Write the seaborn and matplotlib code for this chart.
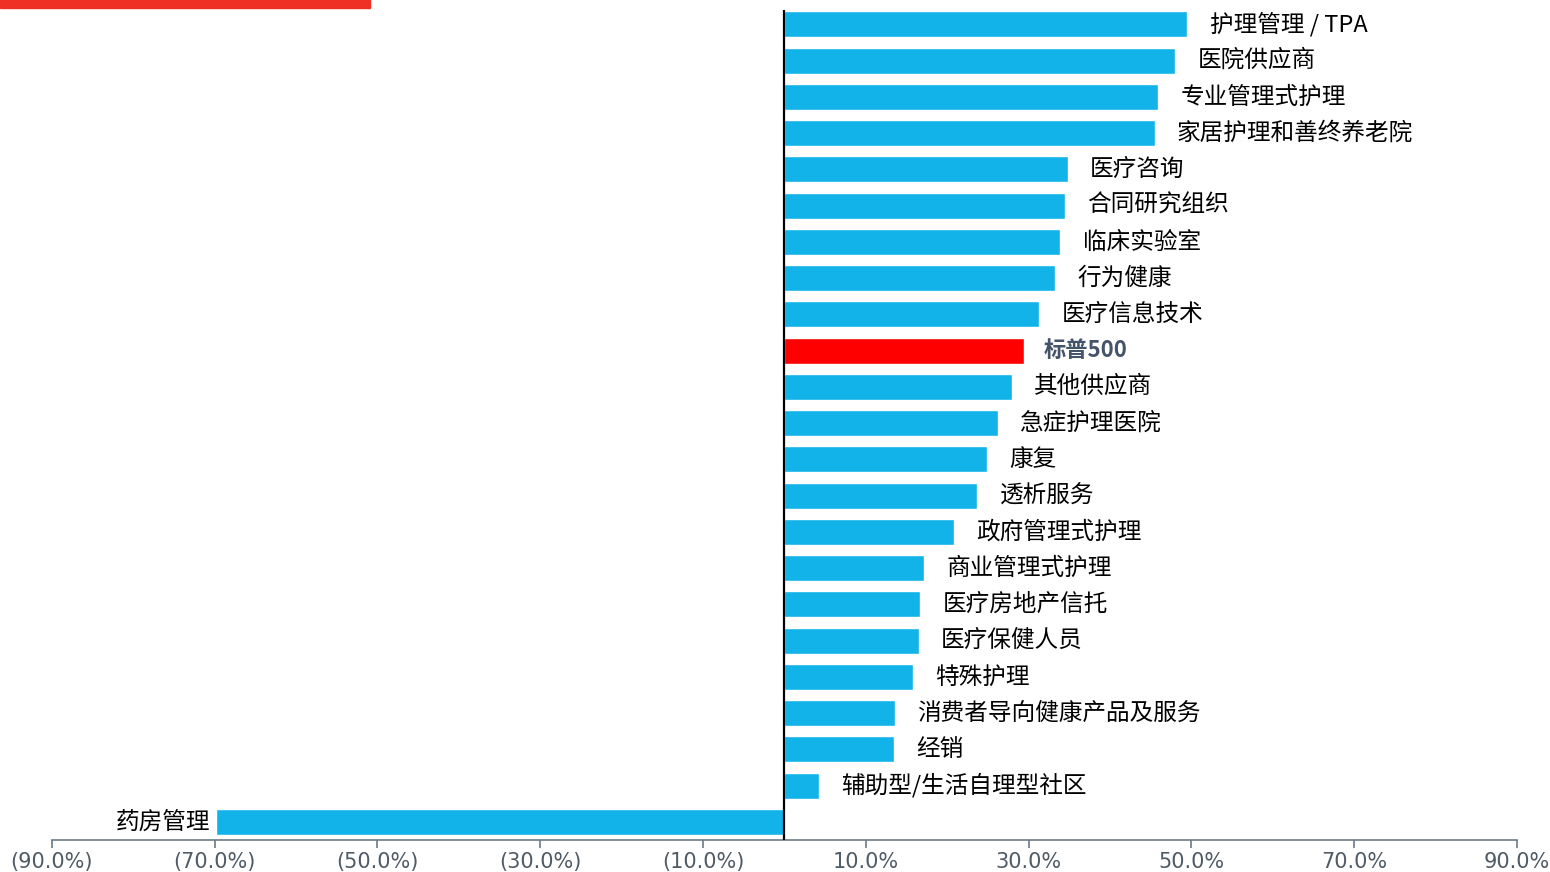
import numpy as np
import pandas as pd
import seaborn as sns
import matplotlib.pyplot as plt
from matplotlib.patches import Rectangle
from matplotlib.ticker import FuncFormatter


sectors = ['护理管理 / TPA', '医院供应商', '专业管理式护理', '家居护理和善终养老院',
           '医疗咨询', '合同研究组织', '临床实验室', '行为健康', '医疗信息技术',
           '标普500', '其他供应商', '急症护理医院', '康复', '透析服务',
           '政府管理式护理', '商业管理式护理', '医疗房地产信托', '医疗保健人员',
           '特殊护理', '消费者导向健康产品及服务', '经销', '辅助型/生活自理型社区',
           '药房管理']
returns = [49.5, 48.0, 45.9, 45.5, 34.8, 34.5, 33.9, 33.3, 31.3, 29.4, 27.9,
           26.2, 24.9, 23.7, 20.8, 17.2, 16.7, 16.5, 15.8, 13.6, 13.5, 4.2, -69.9]
benchmark = '标普500'
x_ticks = [-90, -70, -50, -30, -10, 10, 30, 50, 70, 90]


def main():
    sns.set_theme(style='white')
    plt.rcParams['font.family'] = ['Noto Sans CJK SC', 'DejaVu Sans']

    df = pd.DataFrame({'sector': sectors, 'ret': returns})
    colors = ['#ff0000' if s == benchmark else '#12b3e8' for s in sectors]

    fig = plt.figure(figsize=(15.5, 8.72), dpi=100)
    ax = fig.add_axes([0.0335, 0.0367, 0.9452, 0.952])

    sns.barplot(data=df, x='ret', y='sector', hue='sector', palette=colors,
                legend=False, width=0.72, saturation=1, ax=ax)

    ax.set_xlim(-90, 90)
    ax.set_ylim(22.5, -0.4)
    ax.axvline(0, ymin=0, ymax=1, color='black', lw=1.6, zorder=3)

    # labels next to each bar
    for i, (s, v) in enumerate(zip(sectors, returns)):
        if s == benchmark:
            ax.annotate(s, (v, i), xytext=(14, 0), textcoords='offset points',
                        ha='left', va='center', fontsize=16, fontweight='bold',
                        color='#44546a')
        elif v >= 0:
            ax.annotate(s, (v, i), xytext=(16, 0), textcoords='offset points',
                        ha='left', va='center', fontsize=17, color='black')
        else:
            ax.annotate(s, (v, i), xytext=(-4, 0), textcoords='offset points',
                        ha='right', va='center', fontsize=17, color='black')

    ax.set_xticks(x_ticks)
    ax.xaxis.set_major_formatter(FuncFormatter(
        lambda x, p: f'({abs(x):.1f}%)' if x < 0 else f'{x:.1f}%'))
    ax.tick_params(axis='x', bottom=True, length=6, width=1.2, color='#6b7b8a',
                   labelsize=15, labelcolor='#4f5b66', pad=3)
    for lab in ax.get_xticklabels():
        lab.set_family('DejaVu Sans')
    ax.set_yticks([])
    ax.set_xlabel('')
    ax.set_ylabel('')

    for side in ['left', 'top', 'right']:
        ax.spines[side].set_visible(False)
    ax.spines['bottom'].set_color('#6b7b8a')
    ax.spines['bottom'].set_linewidth(1.2)

    # red strip in the top-left corner
    fig.patches.append(Rectangle((0, 1 - 8 / 872), 370 / 1550, 8 / 872,
                                 transform=fig.transFigure, color='#ee3124'))

    fig.savefig('out.png', dpi=100)


if __name__ == '__main__':
    main()
